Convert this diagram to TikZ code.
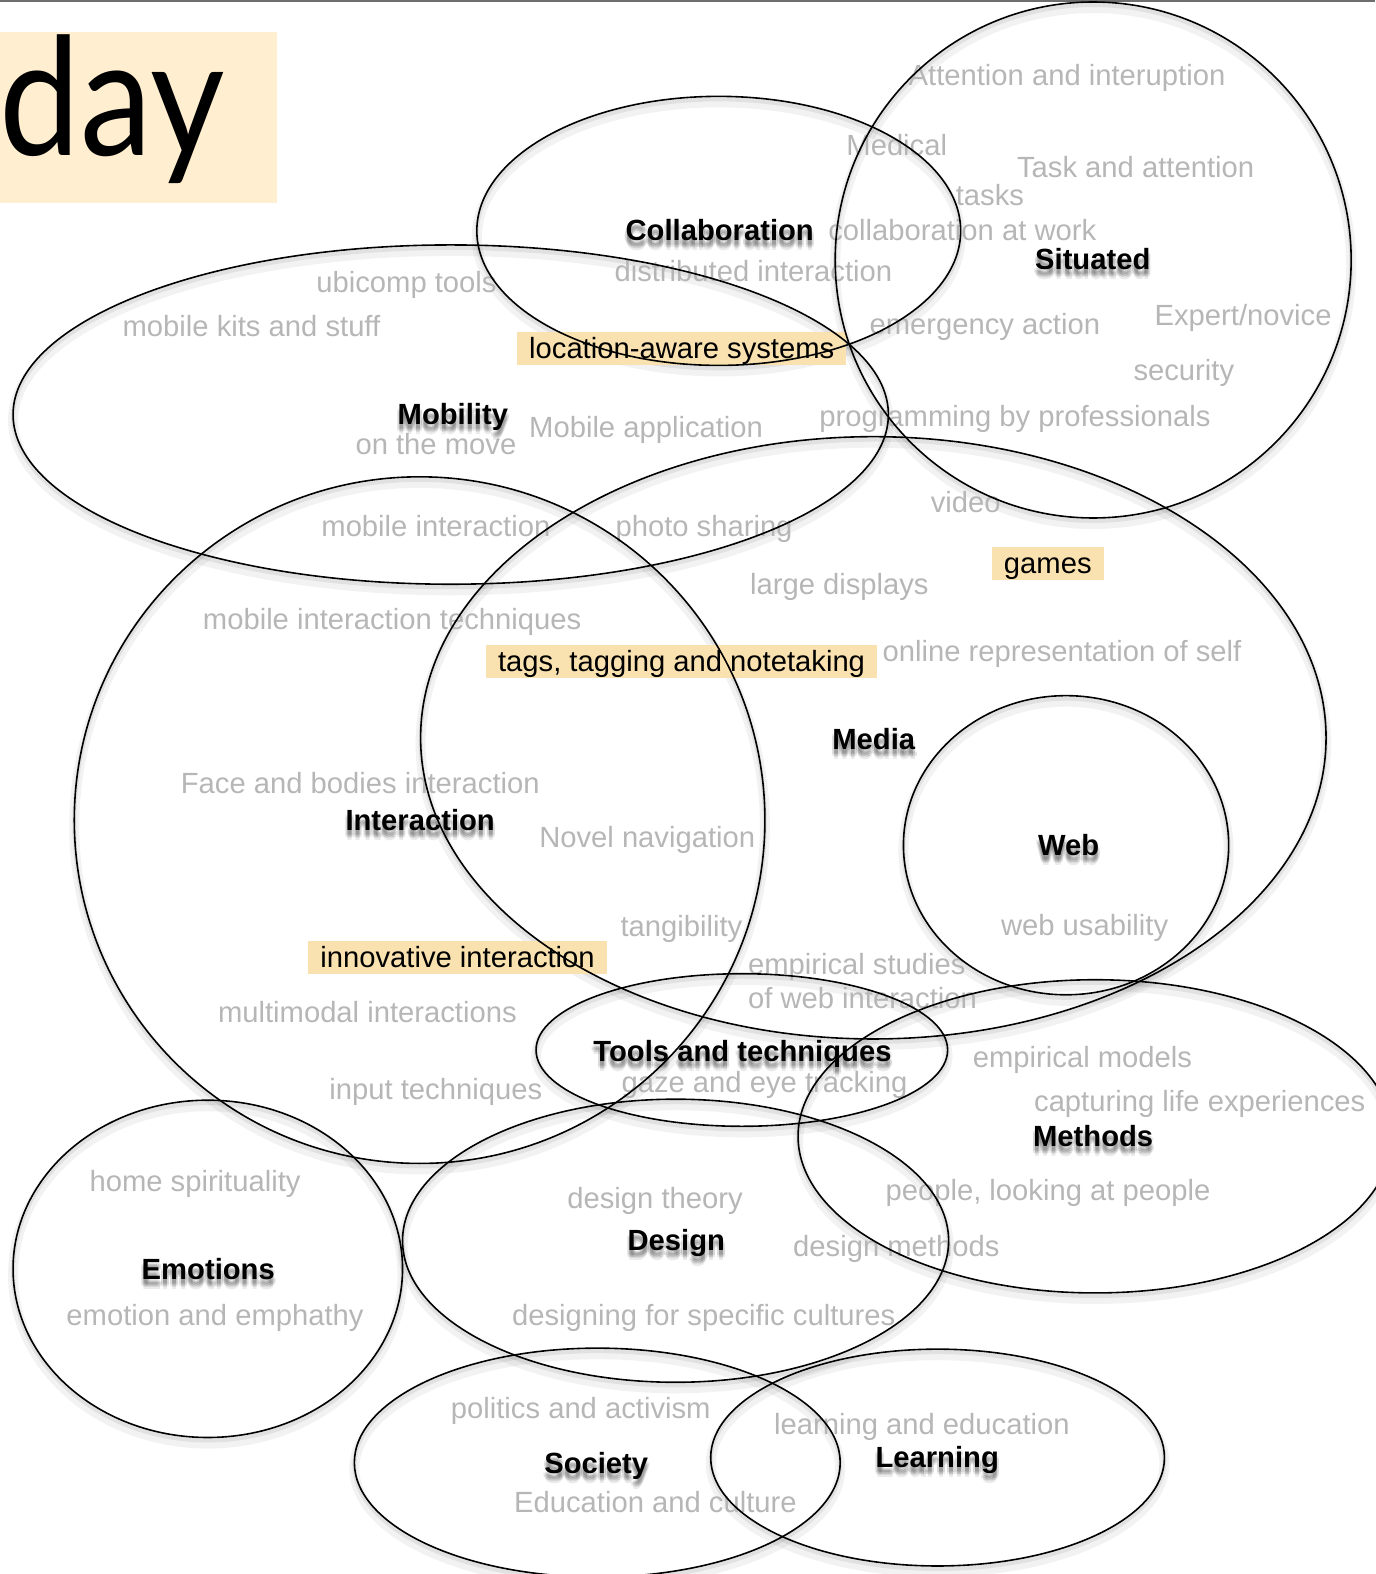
\documentclass[tikz,border=0pt]{standalone}
\usepackage{fontspec}
\usepackage{graphicx}
\setmainfont{Liberation Sans}
\newfontfamily\dayfont{Lato}
\definecolor{lab}{RGB}{182,182,182}
\definecolor{hl}{RGB}{250,226,176}
\definecolor{daybg}{RGB}{255,239,208}
\definecolor{topline}{RGB}{110,110,110}
\tikzset{
  lbl/.style={anchor=base west, inner sep=0pt, text=lab, font=\fontsize{29.2}{34}\selectfont},
  hlt/.style={anchor=west, fill=hl, inner xsep=12pt, inner ysep=0pt, minimum height=33pt,
              text height=24pt, text depth=4pt, font=\fontsize{29.2}{34}\selectfont},
  blbl/.style={anchor=base west, inner sep=0pt, font=\fontsize{29.2}{34}\selectfont\bfseries},
  ring/.style={draw=black, line width=1.6pt},
  ringshadow/.style={draw=black, line width=10pt, opacity=0.05},
  ringshadowb/.style={draw=black, line width=4pt, opacity=0.07}
}
\newcommand\blab[4]{%
  \foreach \dx/\dy [count=\k] in {0/4,0/6,0/8,-2/5,2/5,-2/7,2/7,0/10}{%
    \node[blbl, text opacity=0.08] (#1-sh\k) at ([xshift=\dx pt, yshift=-\dy pt]#2,#3) {#4};}
  \node[blbl] (#1) at (#2,#3) {#4};}
\begin{document}
\begin{tikzpicture}[x=1pt,y=-1pt,scale=1.0036]
\useasboundingbox (0,0) rectangle (1370,1568);
% top rule
\draw[topline, line width=2pt] (0,1) -- (1370,1);
% day box
\fill[daybg] (0,32) rectangle (276,202);
\node[anchor=base west, inner sep=0pt, font=\dayfont\fontsize{164}{164}\selectfont] (day) at (-1,155) {\scalebox{0.88}[1]{day}};
% ellipse shadows
\foreach \cx/\cy/\rx/\ry in {716/230/241/134, 1089/259/257/257, 449/413/436/169, 418/817/344/342,
  870/735/451/300, 1062/842/162/149, 739/1046/205/76, 1091/1132/296/156, 207/1264/194/168,
  673/1236/272/141, 595/1457/242/114, 934/1452/226/108}{%
  \draw[ringshadow] (\cx,\cy+6) ellipse [x radius=\rx pt, y radius=\ry pt];
  \draw[ringshadowb] (\cx,\cy+3) ellipse [x radius=\rx pt, y radius=\ry pt];
}
% gray labels
\foreach \x/\y/\t [count=\i] in {
  905/75/Attention and interuption,
  843/145/Medical,
  1013/167/Task and attention,
  952/195/tasks,
  825/230/collaboration at work,
  612/270/distributed interaction,
  315/281/ubicomp tools,
  122/325/mobile kits and stuff,
  866/323/emergency action,
  1150/314/{Expert/novice},
  1129/369/security,
  816/415/programming by professionals,
  354/443/on the move,
  527/426/Mobile application,
  927/501/video,
  320/524/mobile interaction,
  613/524/photo sharing,
  747/582/large displays,
  202/617/mobile interaction techniques,
  879/649/online representation of self,
  180/780/Face and bodies interaction,
  537/834/Novel navigation,
  618/923/tangibility,
  997/922/web usability,
  745/961/empirical studies,
  745/995/of web interaction,
  217/1009/multimodal interactions,
  969/1053/empirical models,
  619/1078/gaze and eye tracking,
  328/1085/input techniques,
  1030/1097/capturing life experiences,
  89/1177/home spirituality,
  565/1194/design theory,
  882/1186/{people, looking at people},
  790/1242/design methods,
  66/1310/emotion and emphathy,
  510/1310/designing for specific cultures,
  449/1403/politics and activism,
  771/1419/learning and education,
  512/1497/Education and culture}{%
  \node[lbl] (g\i) at (\x,\y+10) {\t};
}
% highlighted labels
\node[hlt] (las) at (515,347) {location-aware systems};
\node[hlt] (games) at (988,561) {games};
\node[hlt] (tags) at (484,659) {tags, tagging and notetaking};
\node[hlt] (innov) at (307,954) {innovative interaction};
% bold labels
\blab{collab}{623}{240}{Collaboration}
\blab{situated}{1031}{268}{Situated}
\blab{mobility}{396}{423}{Mobility}
\blab{media}{829}{747}{Media}
\blab{interaction}{344}{827}{Interaction}
\blab{web}{1034}{852}{Web}
\blab{tools}{591}{1057}{Tools and techniques}
\blab{methods}{1029}{1142}{Methods}
\blab{design}{625}{1246}{Design}
\blab{emotions}{141}{1275}{Emotions}
\blab{society}{542}{1468}{Society}
\blab{learning}{872}{1462}{Learning}
% rings
\foreach \cx/\cy/\rx/\ry in {716/230/241/134, 1089/259/257/257, 449/413/436/169, 418/817/344/342,
  870/735/451/300, 1062/842/162/149, 739/1046/205/76, 1091/1132/296/156, 207/1264/194/168,
  673/1236/272/141, 595/1457/242/114, 934/1452/226/108}{%
  \draw[ring] (\cx,\cy) ellipse [x radius=\rx pt, y radius=\ry pt];
}
\end{tikzpicture}
\end{document}
